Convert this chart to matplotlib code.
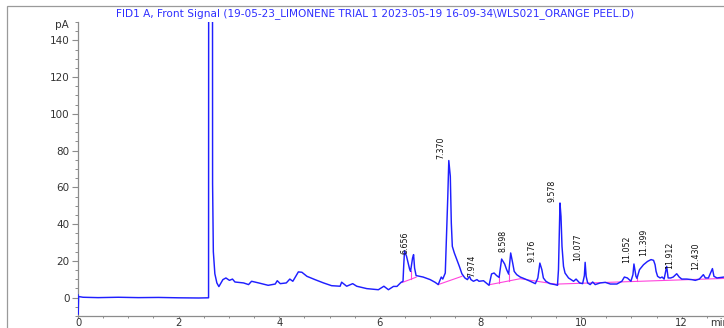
import matplotlib
matplotlib.use("Agg")
import matplotlib.pyplot as plt
from matplotlib.patches import Rectangle
from matplotlib.ticker import MultipleLocator

# ---- data ----
time_min = [0.000, 0.004, 0.012, 0.10, 0.40, 0.80, 1.20, 1.60, 2.00, 2.40, 2.595,
            2.600, 2.670, 2.675, 2.69, 2.72, 2.76, 2.80, 2.88, 2.94, 3.01, 3.07, 3.12,
            3.29, 3.39, 3.45, 3.59, 3.78, 3.92, 3.96, 4.02, 4.14, 4.21, 4.27, 4.38,
            4.45, 4.55, 4.71, 4.88, 5.04, 5.21, 5.24, 5.34, 5.46, 5.54, 5.74, 5.97,
            6.08, 6.14, 6.17, 6.27, 6.34, 6.42, 6.46, 6.475, 6.49, 6.53, 6.59, 6.61,
            6.65, 6.67, 6.69, 6.72, 6.86, 7.00, 7.10, 7.16, 7.22, 7.25, 7.30, 7.35,
            7.37, 7.40, 7.42, 7.44, 7.48, 7.53, 7.58, 7.63, 7.69, 7.74, 7.78, 7.81,
            7.86, 7.93, 7.97, 8.06, 8.13, 8.17, 8.22, 8.27, 8.32, 8.37, 8.42, 8.48,
            8.52, 8.56, 8.60, 8.64, 8.67, 8.72, 8.79, 8.89, 8.99, 9.09, 9.14, 9.18,
            9.22, 9.25, 9.30, 9.38, 9.48, 9.53, 9.55, 9.58, 9.60, 9.62, 9.65, 9.68,
            9.75, 9.85, 9.90, 9.97, 10.03, 10.065, 10.08, 10.10, 10.13, 10.18, 10.23,
            10.28, 10.38, 10.48, 10.58, 10.71, 10.81, 10.86, 10.92, 10.99, 11.03,
            11.05, 11.09, 11.11, 11.16, 11.24, 11.32, 11.39, 11.44, 11.47, 11.49,
            11.52, 11.57, 11.61, 11.65, 11.70, 11.73, 11.78, 11.83, 11.90, 11.95,
            12.00, 12.10, 12.20, 12.27, 12.35, 12.43, 12.47, 12.53, 12.61, 12.64,
            12.70, 12.84, 12.90]
signal_pA = [1.5, -9.0, 0.6, 0.2, 0.0, 0.2, 0.0, 0.1, -0.1, -0.2, -0.1,
             400, 400, 62, 25, 13, 8, 6.0, 9.8, 10.7, 9.4, 10.1, 8.5,
             8.0, 7.1, 8.9, 8.0, 6.7, 7.4, 9.2, 7.6, 8.0, 10.1, 8.9, 14.0,
             13.8, 11.6, 9.8, 8.0, 6.5, 6.2, 8.4, 6.2, 7.6, 6.2, 4.9, 4.3,
             6.2, 4.9, 4.3, 6.1, 6.1, 8.3, 8.9, 18.0, 25.5, 22.5, 15.6, 14.3,
             21.6, 23.4, 16.1, 12.0, 11.2, 9.8, 8.3, 7.1, 11.2, 10.1, 13.4, 55.0,
             74.6, 66.0, 40.6, 27.9, 24.3, 20.7, 17.0, 13.0, 10.7, 9.8, 11.6, 9.8,
             8.9, 9.8, 8.9, 9.2, 7.6, 6.7, 12.9, 13.4, 12.0, 11.0, 21.0, 18.3,
             15.2, 12.8, 24.3, 18.8, 14.3, 12.5, 11.2, 10.1, 8.9, 7.6, 10.7, 18.8,
             15.2, 10.7, 8.9, 7.6, 7.1, 6.7, 15.2, 51.5, 44.2, 27.9, 17.0, 13.4,
             10.7, 8.9, 10.1, 8.0, 7.6, 12.0, 19.2, 11.6, 8.0, 7.1, 8.5,
             7.1, 8.0, 8.3, 7.4, 7.4, 8.9, 11.2, 10.7, 8.9, 12.5,
             18.3, 11.6, 10.5, 15.2, 17.9, 19.7, 20.7, 20.3, 17.9, 14.3,
             11.6, 10.7, 11.2, 10.1, 17.0, 10.7, 10.7, 11.2, 13.0, 11.2,
             10.1, 10.1, 9.8, 9.4, 10.1, 12.5, 10.7, 10.7, 15.8, 11.6,
             10.7, 11.2, 11.2]

# integration baselines (drawn in pink)
baseline_t = [[6.44, 6.72], [6.61, 6.61], [7.16, 7.63], [8.19, 8.79, 9.55],
              [8.37, 8.37], [8.56, 8.56], [9.55, 12.90], [11.11, 11.11]]
baseline_v = [[8.2, 11.1], [10.0, 14.3], [7.1, 11.6], [7.1, 10.3, 7.1],
              [8.1, 11.0], [9.1, 12.8], [7.4, 10.5], [9.1, 10.5]]

# retention-time labels
peak_labels = ["6.656", "7.370", "7.974", "8.598", "9.176", "9.578",
               "10.077", "11.052", "11.399", "11.912", "12.430"]
peak_rt = [6.656, 7.370, 7.974, 8.598, 9.176, 9.578,
           10.077, 11.052, 11.399, 11.912, 12.430]
peak_top = [23.4, 74.6, 10.7, 24.3, 18.8, 51.5, 19.2, 18.3, 22.0, 15.2, 14.3]

y_ticks = [0, 20, 40, 60, 80, 100, 120, 140]
x_ticks = [0, 2, 4, 6, 8, 10, 12]
title = "FID1 A, Front Signal (19-05-23_LIMONENE TRIAL 1 2023-05-19 16-09-34\\WLS021_ORANGE PEEL.D)"

# ---- figure ----
W, H = 724, 328
fig = plt.figure(figsize=(W / 100, H / 100), dpi=100)
plt.rcParams['font.family'] = ['DejaVu Sans']

# outer frame
fig.patches.append(Rectangle((6.5 / W, -0.2), 2.0, 1.2 - 5.5 / H, transform=fig.transFigure,
                             fill=False, edgecolor='#9a9a9a', linewidth=0.9))

fig.text(375 / W, 1 - 14 / H, title, color='#2f2fff', fontsize=7.6,
         ha='center', va='center')

ax = fig.add_axes([78 / W, 12 / H, (W - 78) / W, 294 / H])
ax.set_xlim(0, 12.84)
ax.set_ylim(-10, 150)
ax.patch.set_alpha(0)

ax.plot(time_min, signal_pA, color='#1f1fff', linewidth=1.05, zorder=3)
for bt, bv in zip(baseline_t, baseline_v):
    ax.plot(bt, bv, color='#ff44dd', linewidth=0.8, zorder=2)

for lab, rt, top in zip(peak_labels, peak_rt, peak_top):
    ax.annotate(lab, xy=(rt, top), xytext=(-5.4, 0.8), textcoords='offset points',
                rotation=90, ha='center', va='bottom', fontsize=5.7, color='#111111',
                zorder=4)

for s in ('top', 'right'):
    ax.spines[s].set_visible(False)
for s in ('left', 'bottom'):
    ax.spines[s].set_color('#8c8c8c')
    ax.spines[s].set_linewidth(0.9)

ax.set_yticks(y_ticks)
ax.set_xticks(x_ticks)
ax.yaxis.set_minor_locator(MultipleLocator(5))
ax.xaxis.set_minor_locator(MultipleLocator(0.5))
ax.tick_params(axis='y', which='major', length=4.5, width=0.8, color='#8c8c8c',
               labelsize=7.5, labelcolor='#333333', pad=1.5)
ax.tick_params(axis='y', which='minor', length=2.3, width=0.7, color='#8c8c8c')
ax.tick_params(axis='x', which='major', length=1.6, width=0.8, color='#8c8c8c',
               labelsize=7.2, labelcolor='#333333', pad=0.0)
ax.tick_params(axis='x', which='minor', length=1.6, width=0.7, color='#8c8c8c')

ax.annotate('pA', xy=(0, 148.4), xycoords='data', xytext=(-6.5, 0),
            textcoords='offset points', ha='right', va='center',
            fontsize=7.5, color='#333333', annotation_clip=False)
ax.annotate('min', xy=(12.57, 0), xycoords=('data', 'axes fraction'),
            xytext=(0, -1.6), textcoords='offset points', ha='left', va='top',
            fontsize=7.2, color='#333333', annotation_clip=False)

fig.savefig('out.png', dpi=100)
